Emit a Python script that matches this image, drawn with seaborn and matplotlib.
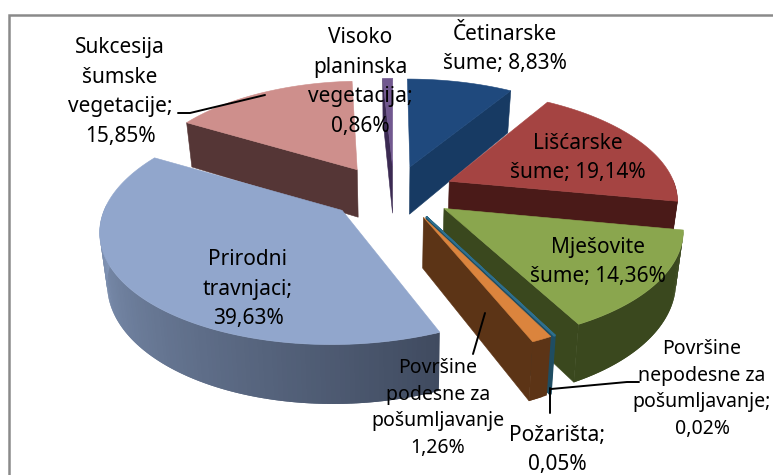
import numpy as np
import matplotlib
matplotlib.use("Agg")
import matplotlib.pyplot as plt
from matplotlib.patches import Polygon
import seaborn as sns

# clockwise from 12 o'clock
names = ["Četinarske\nšume; ", "Lišćarske\nšume; ", "Mješovite\nšume; ",
         "Površine\nnepodesne za\npošumljavanje;\n", "Požarišta;\n",
         "Površine\npodesne za\npošumljavanje\n", "Prirodni\ntravnjaci;\n",
         "Sukcesija\nšumske\nvegetacije;\n", "Visoko\nplaninska\nvegetacija;\n"]
shares = [8.83, 19.14, 14.36, 0.02, 0.05, 1.26, 39.63, 15.85, 0.86]

top_colors = ["#1f497d", "#a54442", "#8aa64e", "#2e6f8e", "#2e6f8e", "#db843d", "#91a6cc", "#ce8f8c", "#71588f"]
side_colors = ["#173a63", "#4a1a18", "#3a481e", "#1f4d62", "#1f4d62", "#5c3416", "#404b60", "#553636", "#3b2a52"]
wall_light = ["#173a63", "#4a1a18", "#3a481e", "#1f4d62", "#1f4d62", "#5c3416", "#8498ba", "#553636", "#3b2a52"]

# per slice tweaks: explosion in x, shift in px, width of rim
expl_x = [0.35, 0.30, 0.30, 0.35, 0.35, 0.35, 0.35, 0.35, 0.35]
shift = [0, 0, 0, 0, 0, 0, 12, 7, 5]
rim_x = [1.03, 1.03, 1.04, 1, 1, 1, 1.05, 1, 1]
draw_order = [8, 0, 7, 1, 6, 2, 3, 4, 5]

# projection
cx, cy = 389.5, 192
A, B, D, p, expl_y, converge = 221, 108, 49, 0.15, 0.25, 0.025

label_pos = [(505, 49), (578, 158), (598, 262), (702, 389), (557, 450), (438, 408), (248, 289), (120, 92), (360, 82)]
small_labels = [3, 5]
leaders = [[(178, 113), (190, 113), (265, 95)],
           [(485, 313), (473, 354)],
           [(550, 388), (550, 413)],
           [(551, 389), (627, 382), (639, 382)]]

sns.set_theme(style="white")
plt.rcParams["font.family"] = ["Noto Sans", "DejaVu Sans"]

fig = plt.figure(figsize=(7.73, 4.75), dpi=100)
ax = fig.add_axes([0, 0, 1, 1])
ax.set_xlim(0, 773)
ax.set_ylim(475, 0)
ax.axis("off")

ax.plot([8.5, 8.5, 773], [475, 15, 15], color="#8a8a8a", lw=1.8, solid_joinstyle="miter")


def project(i, theta, r, bis, depth=0):
    x = r * np.sin(theta) * rim_x[i] + expl_x[i] * np.sin(bis)
    y = r * np.cos(theta) + expl_y * np.cos(bis)
    w = 1 + p * y
    sx = A * x / w * (1 - converge * depth)
    return np.column_stack([cx + shift[i] + sx, cy - B * y / w + depth * D / w])


edges = np.concatenate([[0], np.cumsum(shares)]) / sum(shares) * 2 * np.pi

for i in draw_order:
    t0, t1 = edges[i], edges[i + 1]
    bis = (t0 + t1) / 2
    thin = shares[i] < 0.5
    lw = 1.1 if thin else 0.4

    # cut faces that look at the viewer
    for t, sign in [(t0, -1), (t1, 1)]:
        if -sign * np.sin(t) < -1e-3:
            pts = np.vstack([project(i, np.array([t, t]), np.array([0, 1]), bis),
                             project(i, np.array([t, t]), np.array([1, 0]), bis, 1)])
            ax.add_patch(Polygon(pts, fc=side_colors[i], ec=side_colors[i], lw=lw, zorder=2))

    # outer wall, front part only, each quad runs under the next to hide seams
    a0 = max(t0, np.pi / 2 - 0.02)
    a1 = min(t1, 3 * np.pi / 2 + 0.05)
    if a1 > a0:
        n = max(int(np.degrees(a1 - a0)), 2)
        ts = np.linspace(a0, a1, n + 1)
        cols = sns.blend_palette([side_colors[i], wall_light[i]], n)
        for k in range(n):
            seg = ts[k:k + 3]
            pts = np.vstack([project(i, seg, np.ones(len(seg)), bis),
                             project(i, seg[::-1], np.ones(len(seg)), bis, 1)])
            ax.add_patch(Polygon(pts, fc=cols[k], ec="none", zorder=2))

    # top
    ts = np.linspace(t0, t1, max(int(np.degrees(t1 - t0)), 2) + 1)
    pts = np.vstack([project(i, np.array([t0]), np.array([0]), bis), project(i, ts, np.ones(len(ts)), bis)])
    ax.add_patch(Polygon(pts, fc=top_colors[i], ec=top_colors[i], lw=lw, zorder=2))

for line in leaders:
    xs, ys = zip(*line)
    ax.plot(xs, ys, color="black", lw=1.4, zorder=3)

for i, (nm, v) in enumerate(zip(names, shares)):
    txt = nm + "{:.2f}%".format(v).replace(".", ",")
    small = i in small_labels
    ax.text(label_pos[i][0], label_pos[i][1], txt, ha="center", va="center", fontsize=14 if small else 15,
            color="black", linespacing=1.45 if small else 1.55, zorder=4)

fig.savefig("out.png", dpi=100)
